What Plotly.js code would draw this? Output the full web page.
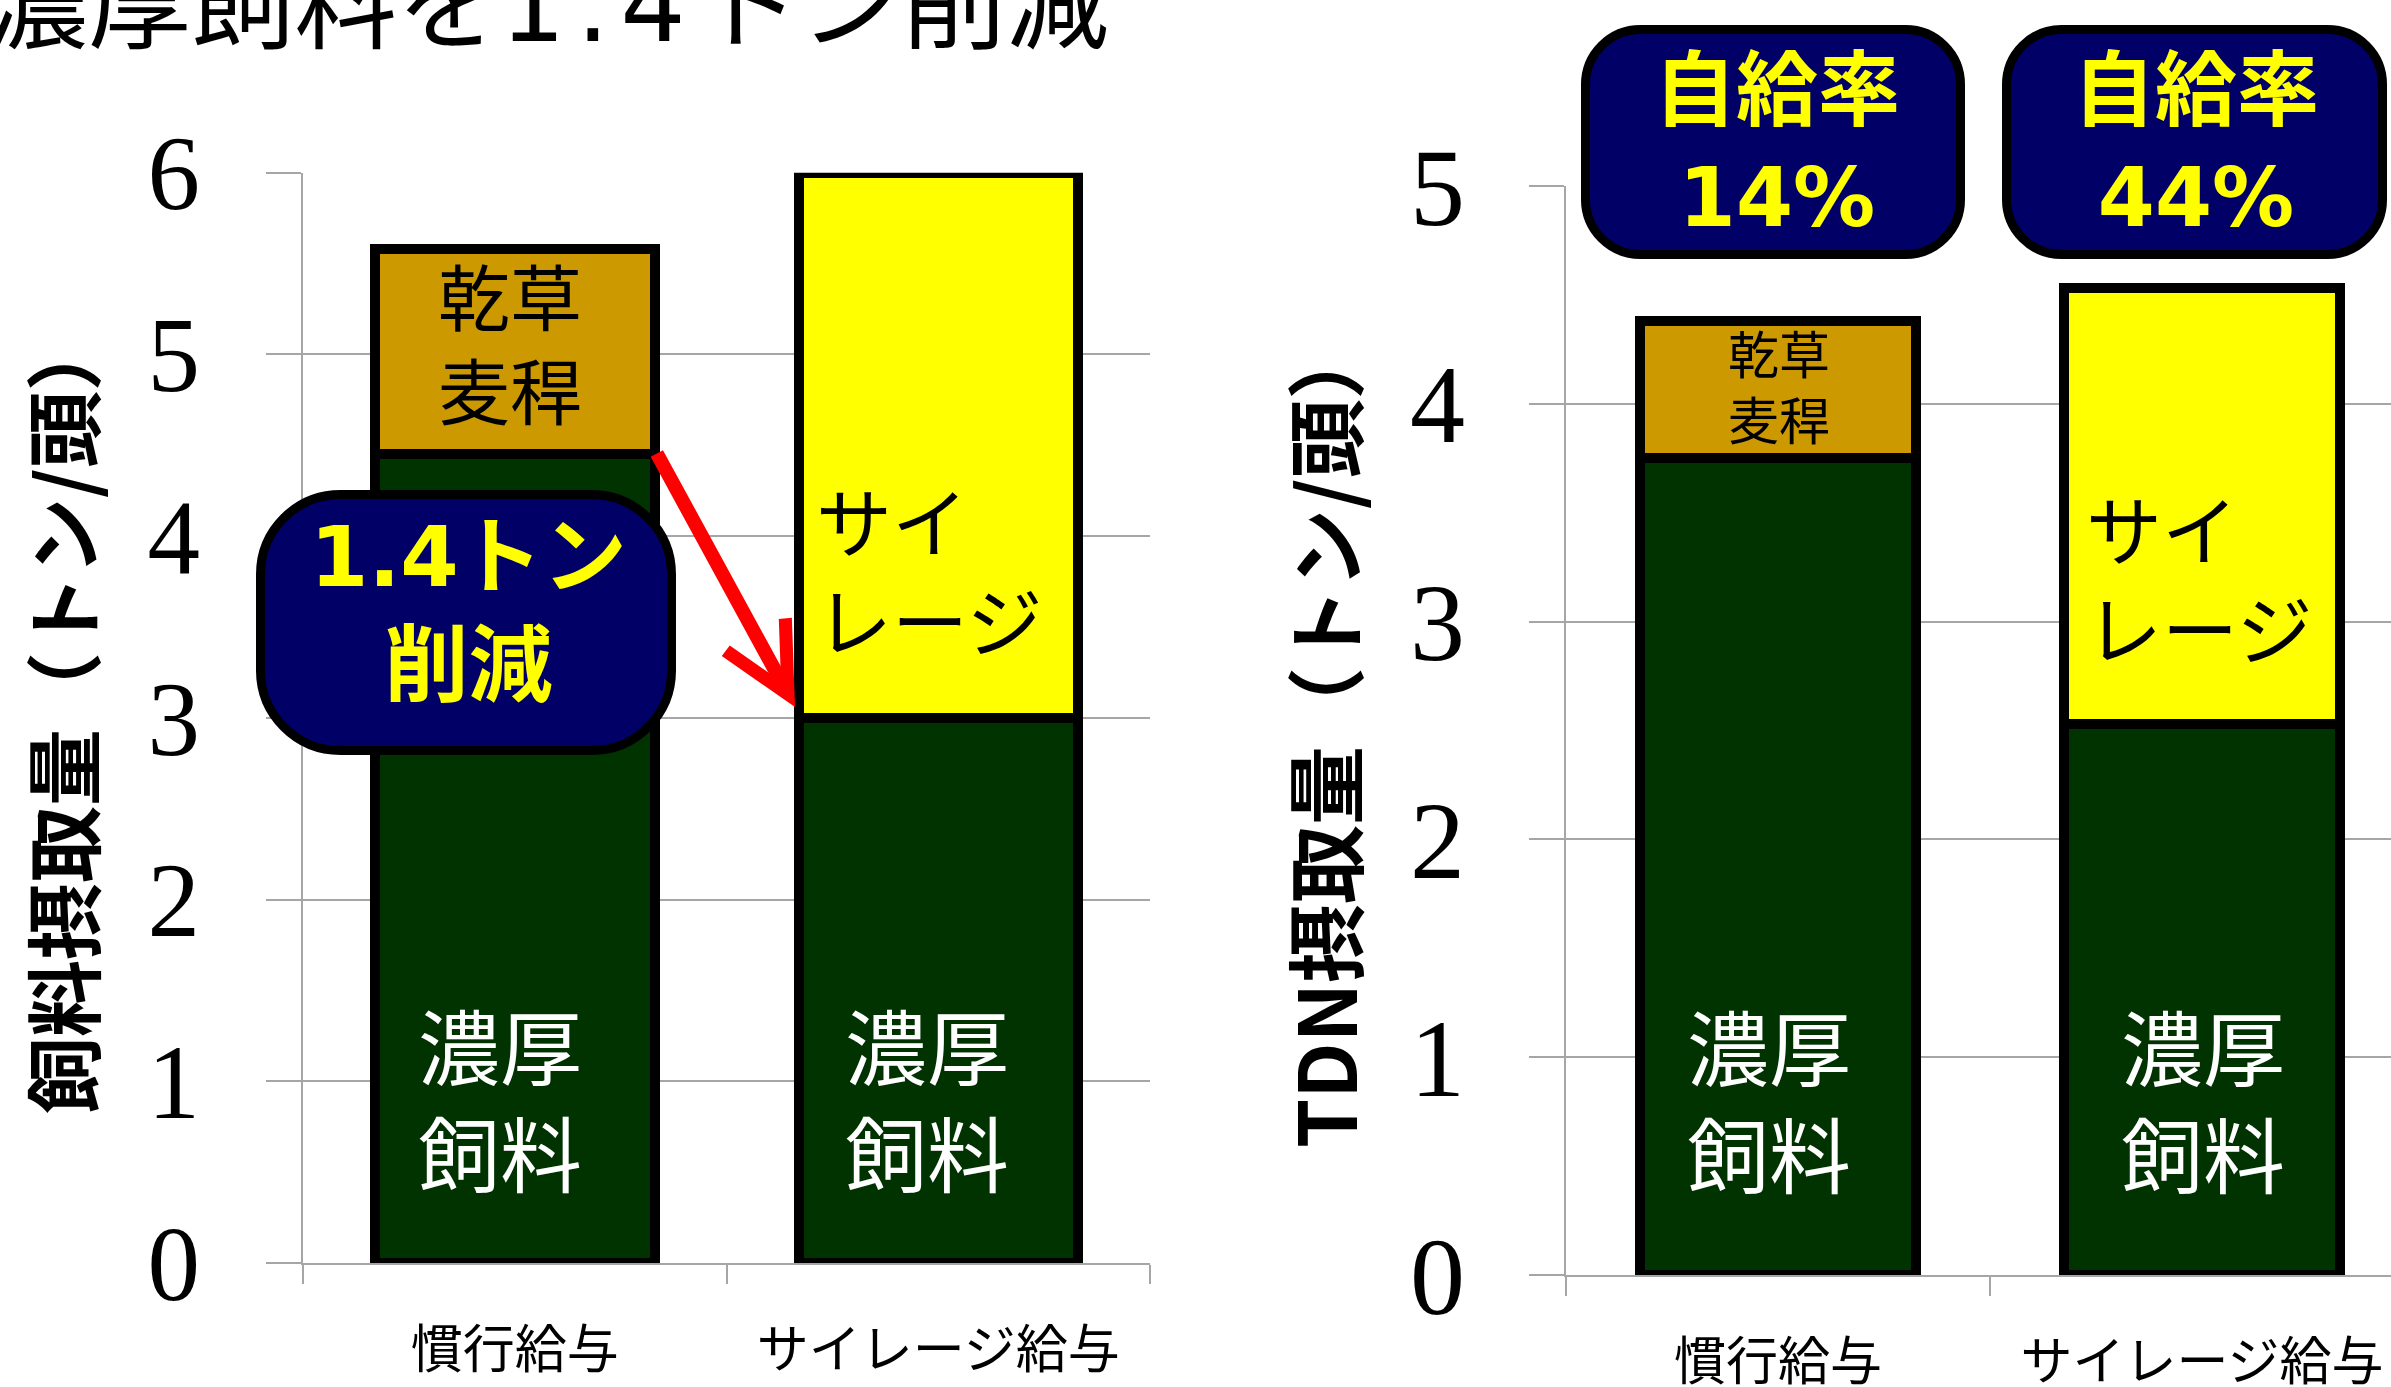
<!DOCTYPE html>
<html><head><meta charset="utf-8">
<script src="https://cdn.plot.ly/plotly-3.0.1.min.js"></script>
<style>html,body{margin:0;padding:0;background:#fff;overflow:hidden}</style>
</head><body>
<div id="chart" style="width:2391px;height:1387px"></div>
<script>
// ---- data ----
const categories = ['慣行給与', 'サイレージ給与'];
const seriesNames = ['濃厚飼料', '乾草麦稈', 'サイレージ'];
const feedConcentrate = [4.45, 3.0];
const feedHayStraw = [1.13, null];
const feedSilage = [null, 3.0];
const tdnConcentrate = [3.75, 2.53];
const tdnHayStraw = [0.63, null];
const tdnSilage = [null, 2.0];
const feedTicks = [0, 1, 2, 3, 4, 5, 6];
const tdnTicks = [0, 1, 2, 3, 4, 5];
const selfSufficiency = ['14%', '44%'];
const reductionText = ['1.4トン', '削減'];
const titleParts = ['濃厚飼料を', '1.4', 'トン削減'];
const yTitleFeed = '飼料摂取量（トン/頭）';
const yTitleTdn = 'TDN摂取量（トン/頭）';
const segLabels = {conc: ['濃厚', '飼料'], hay: ['乾草', '麦稈'], silage: ['サイ', 'レージ']};
const ratioLabel = '自給率';

// ---- styling ----
const W = 2391, H = 1387;
const GREEN = '#003300', TAN = '#CC9900', YELLOW = '#FFFF00', NAVY = '#000066';
const GRID = '#a6a6a6';
const CJK = 'Noto Sans CJK JP';
const BOLDFONT = 'DejaVu Sans, ' + CJK;
const px = v => v / W;
const py = v => 1 - v / H;

function bar(x, y, color, xa, ya, w, name) {
  return {type: 'bar', x: x, y: y, name: name, xaxis: xa, yaxis: ya, width: w,
    marker: {color: color, line: {color: '#000', width: 10}}, hoverinfo: 'skip'};
}

const traces = [
  bar(categories, feedConcentrate, GREEN, 'x', 'y', 0.66, seriesNames[0]),
  bar(categories, feedHayStraw, TAN, 'x', 'y', 0.66, seriesNames[1]),
  bar(categories, feedSilage, YELLOW, 'x', 'y', 0.66, seriesNames[2]),
  bar(categories, tdnConcentrate, GREEN, 'x2', 'y2', 0.65, seriesNames[0]),
  bar(categories, tdnHayStraw, TAN, 'x2', 'y2', 0.65, seriesNames[1]),
  bar(categories, tdnSilage, YELLOW, 'x2', 'y2', 0.65, seriesNames[2])
];

function xAxis(domain, range, anchor) {
  return {domain: domain, anchor: anchor, type: 'category', range: range,
    tickson: 'boundaries', ticks: 'outside', ticklen: 19, tickwidth: 2, tickcolor: GRID,
    showline: true, linecolor: GRID, linewidth: 2, showgrid: false, zeroline: false,
    tickfont: {family: CJK, size: 52, color: '#000'}, ticklabelstandoff: 41, fixedrange: true};
}
function yAxis(domain, range, ticks, anchor, fsize, standoff) {
  return {domain: domain, anchor: anchor, range: range, tickvals: ticks,
    ticks: 'outside', ticklen: 35, tickwidth: 2, tickcolor: GRID,
    showgrid: true, gridcolor: GRID, gridwidth: 2, zeroline: false,
    showline: true, linecolor: GRID, linewidth: 2,
    tickfont: {family: 'Liberation Serif', size: fsize, color: '#000'},
    ticklabelstandoff: standoff, fixedrange: true};
}

function roundedPath(x0, y0, x1, y1, r) {
  const k = 0.5523 * r;
  const X = v => px(v).toFixed(5), Y = v => py(v).toFixed(5);
  return `M${X(x0+r)},${Y(y0)} L${X(x1-r)},${Y(y0)} C${X(x1-r+k)},${Y(y0)} ${X(x1)},${Y(y0+r-k)} ${X(x1)},${Y(y0+r)} ` +
    `L${X(x1)},${Y(y1-r)} C${X(x1)},${Y(y1-r+k)} ${X(x1-r+k)},${Y(y1)} ${X(x1-r)},${Y(y1)} ` +
    `L${X(x0+r)},${Y(y1)} C${X(x0+r-k)},${Y(y1)} ${X(x0)},${Y(y1-r+k)} ${X(x0)},${Y(y1-r)} ` +
    `L${X(x0)},${Y(y0+r)} C${X(x0)},${Y(y0+r-k)} ${X(x0+r-k)},${Y(y0)} ${X(x0+r)},${Y(y0)} Z`;
}
function box(x0, y0, x1, y1, r) {
  return {type: 'path', xref: 'paper', yref: 'paper', layer: 'above',
    path: roundedPath(x0, y0, x1, y1, r), fillcolor: NAVY, line: {color: '#000', width: 9}};
}

function label(text, x, y, size, color, opts) {
  return Object.assign({xref: 'paper', yref: 'paper', x: px(x), y: py(y), text: text,
    showarrow: false, xanchor: 'center', yanchor: 'middle',
    font: {family: CJK, size: size, color: color}}, opts || {});
}
const lines = arr => arr.join('<br>');
const bold = (size) => ({font: {family: BOLDFONT, size: size, color: YELLOW, weight: 'bold'}});

const titleText = titleParts[0] +
  '<span style="font-family:DejaVu Sans;letter-spacing:11px">' + titleParts[1] + '</span>' + titleParts[2];

const annotations = [
  label(titleText, -17, -3, 103, '#000', {xanchor: 'left'}),
  label(yTitleFeed, 60, 714, 77, '#000', {textangle: -90, font: {family: CJK, size: 77, color: '#000', weight: 'bold'}}),
  label(yTitleTdn, 1322, 734, 79, '#000', {textangle: -90, font: {family: CJK, size: 79, color: '#000', weight: 'bold'}}),
  // left chart segment labels
  label(lines(segLabels.hay), 510, 340, 72, '#000'),
  label(lines(segLabels.silage), 814, 569, 76, '#000', {xanchor: 'left', align: 'left'}),
  label(lines(segLabels.conc), 500, 1097, 82, '#fff'),
  label(lines(segLabels.conc), 927, 1097, 82, '#fff'),
  // right chart segment labels
  label(lines(segLabels.hay), 1779, 385, 51, '#000'),
  label(lines(segLabels.silage), 2084, 577, 76, '#000', {xanchor: 'left', align: 'left'}),
  label(lines(segLabels.conc), 1769, 1098, 82, '#fff'),
  label(lines(segLabels.conc), 2203, 1098, 82, '#fff'),
  // box texts
  label(lines(reductionText), 468, 611, 84, YELLOW, bold(84)),
  label(lines([ratioLabel, selfSufficiency[0]]), 1777, 144, 82, YELLOW, bold(82)),
  label(lines([ratioLabel, selfSufficiency[1]]), 2196, 144, 82, YELLOW, bold(82)),
  // red arrow
  {xref: 'paper', yref: 'paper', x: px(795), y: py(707), ax: -139, ay: -255, text: '',
   showarrow: true, arrowhead: 5, arrowsize: 0.95, arrowwidth: 14, arrowcolor: '#FF0000', standoff: 0}
];

const shapes = [
  box(260.5, 494.5, 671.5, 750.5, 80),
  box(1585.5, 29.5, 1960.5, 254.5, 55),
  box(2006.5, 29.5, 2382.5, 254.5, 55)
];

const layout = {
  width: W, height: H, autosize: false,
  margin: {l: 0, r: 0, t: 0, b: 0, pad: 0},
  paper_bgcolor: '#fff', plot_bgcolor: '#fff',
  showlegend: false, barmode: 'stack',
  xaxis: xAxis([px(303), px(1150)], [-0.5, 1.5], 'y'),
  yaxis: yAxis([(H - 1263) / H, (H - 172.7) / H], [0, 6], feedTicks, 'x', 105, 45),
  xaxis2: xAxis([px(1566), 1], [-0.5, -0.5 + 825 / 424], 'y2'),
  yaxis2: yAxis([(H - 1275) / H, (H - 186) / H], [0, 5], tdnTicks, 'x2', 110, 42),
  shapes: shapes,
  annotations: annotations
};

Plotly.newPlot('chart', traces, layout, {displayModeBar: false, staticPlot: true});
</script>
</body></html>
